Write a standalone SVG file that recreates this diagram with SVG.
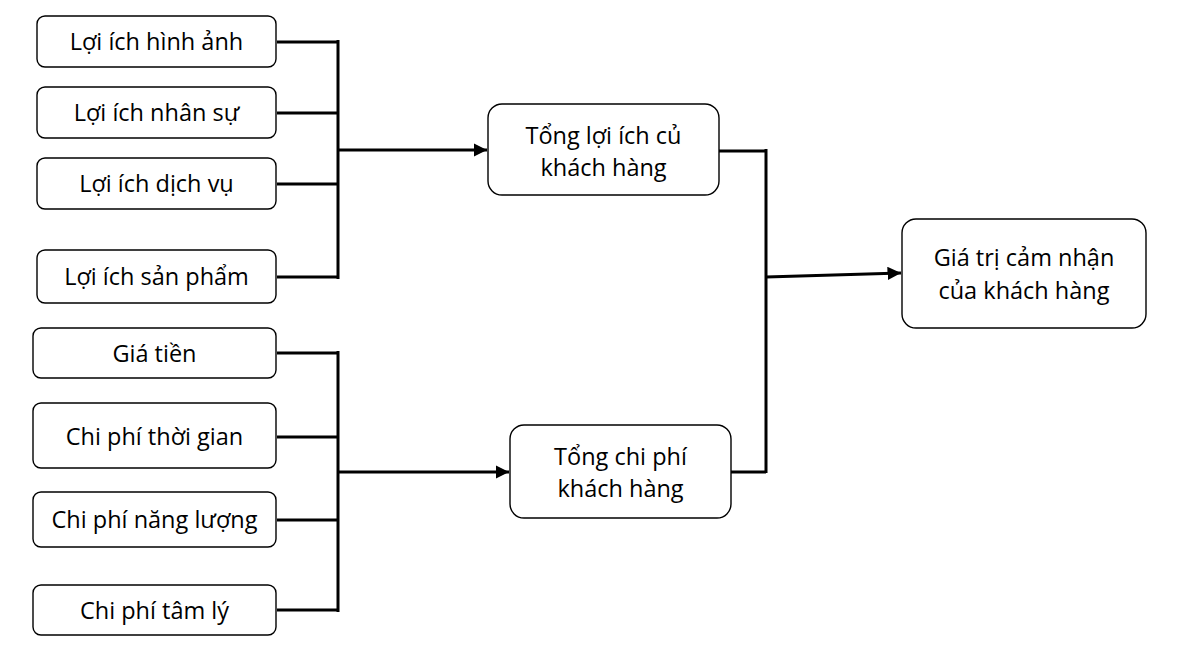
<svg xmlns="http://www.w3.org/2000/svg" width="1187" height="668" viewBox="0 0 1187 668">
<style>
.box{fill:#fff;stroke:#000;stroke-width:1.4}
.t{font-family:"Open Sans","Noto Sans","Liberation Sans",sans-serif;font-size:23.5px;fill:#000;text-anchor:middle}
.c{fill:none;stroke:#000;stroke-width:3}
</style>
<defs>
<marker id="ah" viewBox="0 0 10 10" refX="10" refY="5" markerWidth="4.5" markerHeight="4.5" markerUnits="strokeWidth" orient="auto">
<path d="M0,0 L10,5 L0,10 z" fill="#000"/>
</marker>
</defs>
<rect width="1187" height="668" fill="#fff"/>
<g id="connectors">
<path class="c" d="M277,42 H338 M277,113 H338 M277,184 H338 M277,277 H338 M338,40 V279"/>
<path class="c" d="M338,150 H487" marker-end="url(#ah)"/>
<path class="c" d="M277,353 H338 M277,437 H338 M277,520 H338 M277,610 H338 M338,351 V612"/>
<path class="c" d="M338,472 H509" marker-end="url(#ah)"/>
<path class="c" d="M719,151 H766 M731,472 H766 M766,149 V473"/>
<path class="c" d="M766,277 L901,273" marker-end="url(#ah)"/>
</g>
<g id="n1"><rect class="box" x="37" y="16" width="239" height="51" rx="8"/><text class="t" x="156.5" y="50">Lợi ích hình ảnh</text></g>
<g id="n2"><rect class="box" x="37" y="87" width="239" height="51" rx="8"/><text class="t" x="156.5" y="121">Lợi ích nhân sự</text></g>
<g id="n3"><rect class="box" x="37" y="158" width="239" height="51" rx="8"/><text class="t" x="156.5" y="192">Lợi ích dịch vụ</text></g>
<g id="n4"><rect class="box" x="37" y="250" width="239" height="53" rx="8"/><text class="t" x="156.5" y="285">Lợi ích sản phẩm</text></g>
<g id="n5"><rect class="box" x="33" y="328" width="243" height="50" rx="8"/><text class="t" x="154.5" y="362">Giá tiền</text></g>
<g id="n6"><rect class="box" x="33" y="403" width="243" height="65" rx="8"/><text class="t" x="154.5" y="445">Chi phí thời gian</text></g>
<g id="n7"><rect class="box" x="33" y="492" width="243" height="55" rx="8"/><text class="t" x="154.5" y="528">Chi phí năng lượng</text></g>
<g id="n8"><rect class="box" x="33" y="585" width="243" height="50" rx="8"/><text class="t" x="154.5" y="619">Chi phí tâm lý</text></g>
<g id="n9"><rect class="box" x="488" y="104" width="231" height="91" rx="14"/><text class="t" x="603.5" y="144">Tổng lợi ích củ</text><text class="t" x="603.5" y="176">khách hàng</text></g>
<g id="n10"><rect class="box" x="510" y="425" width="221" height="93" rx="14"/><text class="t" x="620.5" y="465">Tổng chi phí</text><text class="t" x="620.5" y="497">khách hàng</text></g>
<g id="n11"><rect class="box" x="902" y="219" width="244" height="109" rx="14"/><text class="t" x="1024" y="266">Giá trị cảm nhận</text><text class="t" x="1024" y="299">của khách hàng</text></g>
</svg>
